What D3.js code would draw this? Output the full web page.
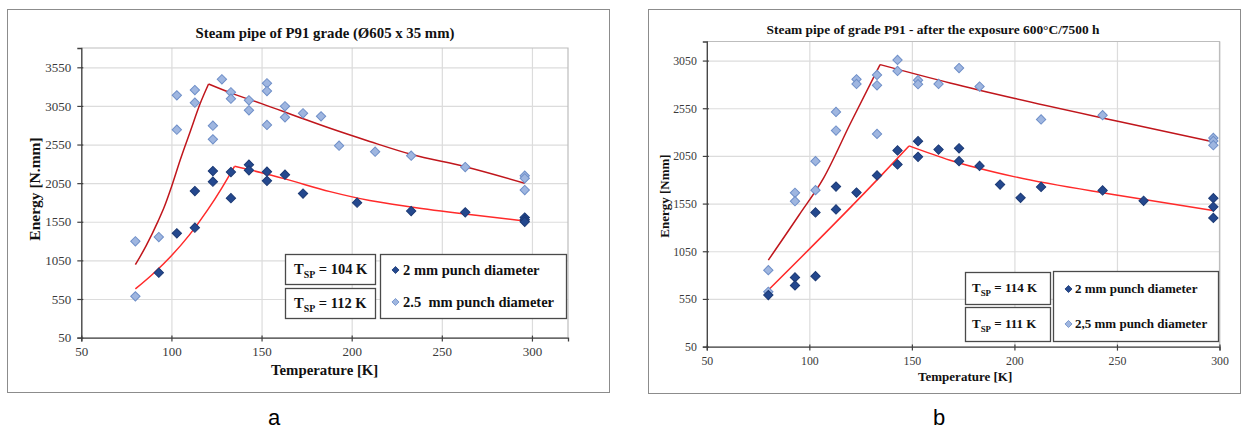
<!DOCTYPE html>
<html><head><meta charset="utf-8">
<script src="https://cdn.jsdelivr.net/npm/d3@7"></script>
<style>
body{margin:0;background:#fff}
svg{display:block}
text{font-family:"Liberation Serif","Times New Roman",serif}
</style>
</head><body>
<svg id="c" width="1245" height="430"></svg>
<script>
// ---------------- DATA ----------------
const titleA = "Steam pipe of P91 grade (Ø605 x 35 mm)";
const titleB = "Steam pipe of grade P91 - after the exposure 600°C/7500 h";
const xTitle = "Temperature [K]";
const yTitleA = "Energy [N.mm]";
const yTitleB = "Energy [Nmm]";
const xTicks = [50, 100, 150, 200, 250, 300];
const yTicksA = [50, 550, 1050, 1550, 2050, 2550, 3050, 3550];
const yTicksB = [50, 550, 1050, 1550, 2050, 2550, 3050];
const seriesNamesA = ["2 mm punch diameter", "2.5  mm punch diameter"];
const seriesNamesB = ["2 mm punch diameter", "2,5 mm punch diameter"];
const tspA = ["104 K", "112 K"];
const tspB = ["114 K", "111 K"];

// chart a, 2 mm punch
const tA2 = [93, 103, 113, 113, 123, 123, 133, 133, 143, 143, 153, 153, 163, 173, 203, 233, 263, 296, 296, 296];
const eA2 = [890, 1400, 1473, 1948, 2207, 2069, 2194, 1855, 2289, 2216, 2198, 2081, 2159, 1915, 1797, 1689, 1672, 1605, 1575, 1550];
// chart a, 2.5 mm punch
const tA25 = [80, 80, 93, 103, 103, 113, 113, 123, 123, 128, 133, 133, 143, 143, 153, 153, 153, 163, 163, 173, 183, 193, 213, 233, 263, 296, 296, 296];
const eA25 = [584, 1297, 1352, 3187, 2742, 3256, 3092, 2794, 2617, 3395, 3226, 3143, 3123, 2993, 3343, 3243, 2803, 3045, 2902, 2954, 2915, 2535, 2457, 2405, 2259, 2146, 2113, 1961];
// chart a, fitted curves (rising branch, falling branch)
const fitA2UpT = [80, 90, 100, 110, 120, 128, 135];
const fitA2UpE = [680, 880, 1110, 1380, 1700, 1990, 2268];
const fitA2DnT = [135, 150, 163, 188, 210, 233, 263, 296];
const fitA2DnE = [2268, 2185, 2105, 1940, 1825, 1742, 1650, 1560];
const fitA25UpT = [80, 86, 92.6, 96, 100, 105, 110.4, 116, 120.6];
const fitA25UpE = [994, 1240, 1558, 1740, 2000, 2360, 2716, 3084, 3334];
const fitA25DnT = [120.6, 135, 150, 170, 188, 210, 233, 263, 296];
const fitA25DnE = [3334, 3200, 3080, 2910, 2760, 2590, 2423, 2262, 2048];

// chart b, 2 mm punch
const tB2 = [80, 93, 93, 103, 103, 113, 113, 123, 133, 143, 143, 153, 153, 163, 173, 173, 183, 193, 203, 213, 243, 263, 297, 297, 297];
const eB2 = [590, 776, 692, 789, 1457, 1488, 1728, 1666, 1845, 2107, 1960, 2204, 2040, 2117, 2130, 1995, 1945, 1750, 1610, 1725, 1688, 1579, 1607, 1516, 1400];
// chart b, 2.5 mm punch
const tB25 = [80, 80, 93, 93, 103, 103, 113, 113, 123, 123, 133, 133, 133, 143, 143, 153, 153, 163, 173, 183, 213, 243, 297, 297, 297];
const eB25 = [625, 852, 1663, 1575, 1691, 1995, 2511, 2316, 2854, 2805, 2899, 2791, 2281, 3056, 2941, 2844, 2802, 2805, 2972, 2778, 2432, 2477, 2239, 2207, 2162];
// chart b, fitted curves
const fitB2UpT = [80, 132.9, 148.6];
const fitB2UpE = [643, 1796, 2155];
const fitB2DnT = [148.6, 168.6, 200.3, 250.4, 297];
const fitB2DnE = [2155, 2005, 1830, 1638, 1478];
const fitB25UpT = [80, 95, 107, 120, 134.5];
const fitB25UpE = [957, 1430, 1820, 2390, 3008];
const fitB25DnT = [134.5, 168.6, 200.3, 250.4, 297];
const fitB25DnE = [3008, 2815, 2652, 2414, 2197];

// ---------------- STYLE ----------------
const C_DARK = "#24488e", C_DARK_S = "#1c3a75";
const C_LIGHT = "#9fb6e0", C_LIGHT_S = "#6f8fc8";
const C_FIT25 = "#c0161c", C_FIT2 = "#ff2a2a";

const svg = d3.select("#c");
const zip = (a, b) => a.map((v, i) => [v, b[i]]);

function drawChart(L, D) {
  const root = svg.append("g");
  root.append("rect").attr("x", L.box[0] + 0.5).attr("y", L.box[1] + 0.5)
    .attr("width", L.box[2]).attr("height", L.box[3])
    .attr("fill", "#fff").attr("stroke", "#8c8c8c").attr("stroke-width", 1);

  const x = d3.scaleLinear().domain(L.xDomain).range([L.l, L.r]);
  const y = d3.scaleLinear().domain(L.yDomain).range([L.b, L.t]);

  // gridlines
  root.append("g").attr("transform", `translate(${L.l},0)`)
    .call(d3.axisLeft(y).tickValues(D.yTicks).tickSize(-(L.r - L.l)).tickFormat(""))
    .call(g => g.select(".domain").remove())
    .call(g => g.selectAll(".tick line").attr("stroke", "#dcdcdc").attr("stroke-width", 1.2));
  root.append("g").attr("transform", `translate(0,${L.b})`)
    .call(d3.axisBottom(x).tickValues(D.xTicks).tickSize(-(L.b - L.t)).tickFormat(""))
    .call(g => g.select(".domain").remove())
    .call(g => g.selectAll(".tick line").attr("stroke", "#dcdcdc").attr("stroke-width", 1.2));
  // plot frame top/right
  root.append("path").attr("d", `M${L.l},${L.t}H${L.r}V${L.b}`)
    .attr("fill", "none").attr("stroke", "#bdbdbd").attr("stroke-width", 1.2);

  // axes
  const ay = root.append("g").attr("transform", `translate(${L.l},0)`)
    .call(d3.axisLeft(y).tickValues(D.yTicks).tickSize(4).tickPadding(L.yPad).tickFormat(d3.format("d")));
  ay.selectAll(".tick line").attr("x1", 2);
  const ax = root.append("g").attr("transform", `translate(0,${L.b})`)
    .call(d3.axisBottom(x).tickValues(D.xTicks).tickSize(4).tickPadding(L.xPad).tickFormat(d3.format("d")));
  ax.selectAll(".tick line").attr("y1", -2);
  [ax, ay].forEach(a => {
    a.select(".domain").attr("stroke", "#404040").attr("stroke-width", 1.3);
    a.selectAll(".tick line").attr("stroke", "#404040").attr("stroke-width", 1.2);
    a.selectAll(".tick text").attr("font-family", "Liberation Serif").attr("font-size", L.tickFs).attr("fill", "#3a3a3a");
  });

  // titles
  root.append("text").attr("x", L.titleX).attr("y", L.titleY).attr("text-anchor", "middle")
    .attr("font-size", L.titleFs).attr("font-weight", "bold").attr("fill", "#111").text(D.title);
  root.append("text").attr("x", (L.l + L.r) / 2 + L.xtDx).attr("y", L.xtY).attr("text-anchor", "middle")
    .attr("font-size", L.axFs).attr("font-weight", "bold").attr("fill", "#111").text(xTitle);
  root.append("text").attr("transform", `translate(${L.ytX},${L.ytY}) rotate(-90)`)
    .attr("text-anchor", "middle").attr("dominant-baseline", "central")
    .attr("font-size", L.ytFs).attr("font-weight", "bold").attr("fill", "#111").text(D.yTitle);

  // fitted curves
  const line = d3.line().x(d => x(d[0])).y(d => y(d[1])).curve(d3.curveMonotoneX);
  const fits = [
    [D.fit25Up, C_FIT25], [D.fit25Dn, C_FIT25],
    [D.fit2Up, C_FIT2], [D.fit2Dn, C_FIT2]
  ];
  fits.forEach(([pts, col]) => {
    root.append("path").attr("d", line(pts)).attr("fill", "none")
      .attr("stroke", col).attr("stroke-width", 1.5).attr("stroke-linejoin", "miter");
  });

  // markers
  const diamond = d3.symbol(d3.symbolSquare, L.mk * L.mk);
  const drawPts = (pts, fill, stroke) => {
    root.append("g").selectAll("path").data(pts).join("path")
      .attr("d", diamond)
      .attr("transform", d => `translate(${x(d[0])},${y(d[1])}) rotate(45)`)
      .attr("fill", fill).attr("stroke", stroke).attr("stroke-width", 1);
  };
  drawPts(D.p25, C_LIGHT, C_LIGHT_S);
  drawPts(D.p2, C_DARK, C_DARK_S);

  // legend boxes
  const LG = L.leg;
  const box = (x0, y0, x1, y1) => root.append("rect").attr("x", x0 + 0.5).attr("y", y0 + 0.5)
    .attr("width", x1 - x0).attr("height", y1 - y0)
    .attr("fill", "#fff").attr("stroke", "#4a4a4a").attr("stroke-width", 1.3);
  box(...LG.t1); box(...LG.t2); box(...LG.main);
  [[LG.t1, D.tsp[0]], [LG.t2, D.tsp[1]]].forEach(([b, val]) => {
    const t = root.append("text").attr("x", LG.tspX).attr("y", (b[1] + b[3]) / 2 + LG.fs * 0.33)
      .attr("font-size", LG.fs).attr("font-weight", "bold").attr("fill", "#111");
    t.append("tspan").text("T");
    t.append("tspan").attr("font-size", LG.fs * 0.68).attr("dy", LG.fs * 0.28).text("SP");
    t.append("tspan").attr("dy", -LG.fs * 0.28).text(" = " + val);
  });
  const legMk = d3.symbol(d3.symbolSquare, LG.mk * LG.mk);
  [[LG.row1, C_DARK, C_DARK_S, D.names[0]], [LG.row2, C_LIGHT, C_LIGHT_S, D.names[1]]].forEach(([ry, f, s, name]) => {
    root.append("path").attr("d", legMk).attr("transform", `translate(${LG.mkX},${ry}) rotate(45)`)
      .attr("fill", f).attr("stroke", s).attr("stroke-width", 0.8);
    root.append("text").attr("x", LG.txtX).attr("y", ry + LG.fs * 0.33)
      .attr("font-size", LG.fs).attr("font-weight", "bold").attr("fill", "#111")
      .attr("xml:space", "preserve").style("white-space", "pre").text(name);
  });

  // panel letter
  svg.append("text").attr("x", L.letter[0]).attr("y", L.letter[1]).attr("text-anchor", "middle")
    .style("font-family", "'Liberation Sans', Arial, sans-serif")
    .attr("font-size", 22).attr("fill", "#000").text(L.letter[2]);
}

// chart a
drawChart({
  box: [7, 9, 602, 383], l: 81.3, r: 568, t: 48, b: 337.6,
  xDomain: [50, 320], yDomain: [50, 3800],
  yPad: 6, xPad: 5, tickFs: 13,
  titleX: 325, titleY: 38, titleFs: 14.8,
  xtDx: 0, xtY: 375, axFs: 14.8, ytX: 34, ytY: 189, ytFs: 15.5,
  mk: 6.6,
  leg: { t1: [285, 254, 375, 284], t2: [285, 288, 375, 318], main: [380, 254, 566, 318],
         tspX: 294, fs: 14.5, mk: 5, mkX: 395.5, txtX: 403, row1: 270, row2: 302 },
  letter: [274, 425, "a"]
}, {
  title: titleA, yTitle: yTitleA, xTicks: xTicks, yTicks: yTicksA,
  p2: zip(tA2, eA2), p25: zip(tA25, eA25),
  fit2Up: zip(fitA2UpT, fitA2UpE), fit2Dn: zip(fitA2DnT, fitA2DnE),
  fit25Up: zip(fitA25UpT, fitA25UpE), fit25Dn: zip(fitA25DnT, fitA25DnE),
  names: seriesNamesA, tsp: tspA
});

// chart b
drawChart({
  box: [648, 9, 592, 384], l: 706.8, r: 1219.5, t: 41.5, b: 346.6,
  xDomain: [50, 300], yDomain: [50, 3250],
  yPad: 6, xPad: 6.5, tickFs: 11.8,
  titleX: 933, titleY: 34, titleFs: 13.4,
  xtDx: 2, xtY: 381, axFs: 13, ytX: 664, ytY: 196, ytFs: 13,
  mk: 6.6,
  leg: { t1: [965, 272, 1050, 304], t2: [965, 307, 1050, 341], main: [1053, 271, 1218, 341],
         tspX: 972, fs: 13, mk: 5, mkX: 1068.5, txtX: 1075, row1: 289, row2: 324 },
  letter: [939, 425, "b"]
}, {
  title: titleB, yTitle: yTitleB, xTicks: xTicks, yTicks: yTicksB,
  p2: zip(tB2, eB2), p25: zip(tB25, eB25),
  fit2Up: zip(fitB2UpT, fitB2UpE), fit2Dn: zip(fitB2DnT, fitB2DnE),
  fit25Up: zip(fitB25UpT, fitB25UpE), fit25Dn: zip(fitB25DnT, fitB25DnE),
  names: seriesNamesB, tsp: tspB
});
</script>
</body></html>
